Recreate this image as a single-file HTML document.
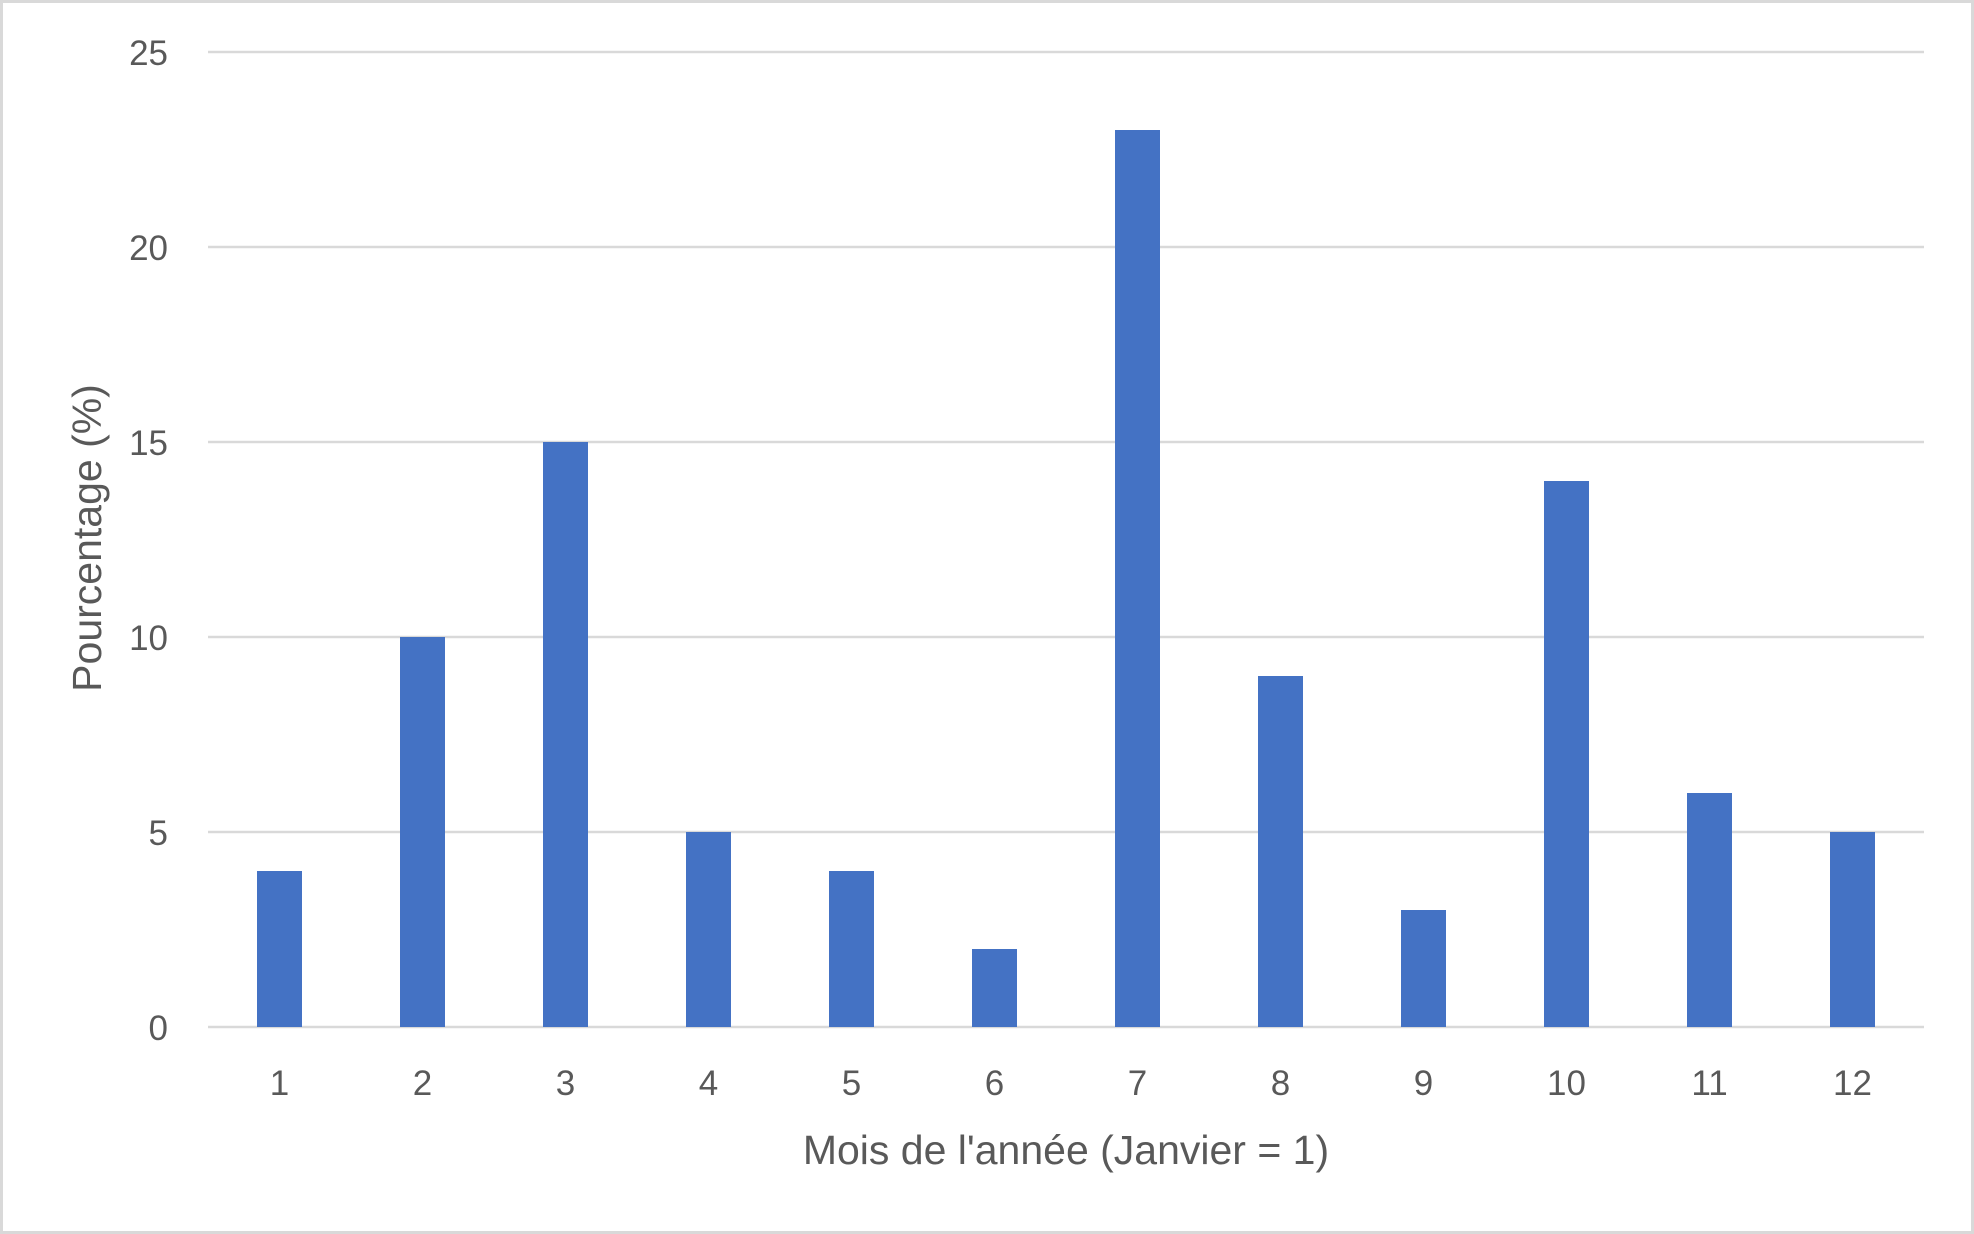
<!DOCTYPE html>
<html><head><meta charset="utf-8"><style>
html,body{margin:0;padding:0;background:#fff}
svg{display:block;font-family:"Liberation Sans",sans-serif}
</style></head><body>
<svg id="chart" width="1974" height="1234" viewBox="0 0 1974 1234">
<rect x="1.5" y="1.5" width="1971" height="1231" fill="#fff" stroke="#d9d9d9" stroke-width="3"/>
<g id="grid"></g><g id="bars"></g><g id="xt"></g><g id="yt"></g>
<text x="1066" y="1164" text-anchor="middle" font-size="41" fill="#595959">Mois de l'année (Janvier = 1)</text>
<text transform="translate(101,538) rotate(-90)" text-anchor="middle" font-size="41" fill="#595959">Pourcentage (%)</text>
</svg>
<script>
const categories=["1","2","3","4","5","6","7","8","9","10","11","12"];
const values=[4,10,15,5,4,2,23,9,3,14,6,5];
const yTicks=[0,5,10,15,20,25];
const L=208,R=1924,T=52,B=1027,yMax=25;
const ns="http://www.w3.org/2000/svg";
const y=v=>B-(v/yMax)*(B-T);
const bw=(R-L)/categories.length;
const x=i=>L+bw*(i+0.5);
function mk(t,a,p){const e=document.createElementNS(ns,t);for(const k in a)e.setAttribute(k,a[k]);document.getElementById(p).appendChild(e);return e;}
yTicks.forEach(v=>{
 const g=mk('line',{x1:L,x2:R,y1:y(v),y2:y(v),stroke:'#d9d9d9','stroke-width':2.5},'grid');
 
 
 const t=mk('text',{x:168,y:y(v)+13,'text-anchor':'end','font-size':35,fill:'#595959'},'yt');
 t.textContent=v;
 
 
});
categories.forEach((c,i)=>{
 const r=mk('rect',{x:x(i)-22.5,y:y(values[i]),width:45,height:B-y(values[i]),fill:'#4472c4'},'bars');
 
 
 const t=mk('text',{x:x(i),y:1095,'text-anchor':'middle','font-size':35,fill:'#595959'},'xt');
 t.textContent=c;
 
 
});
</script>
</body></html>
